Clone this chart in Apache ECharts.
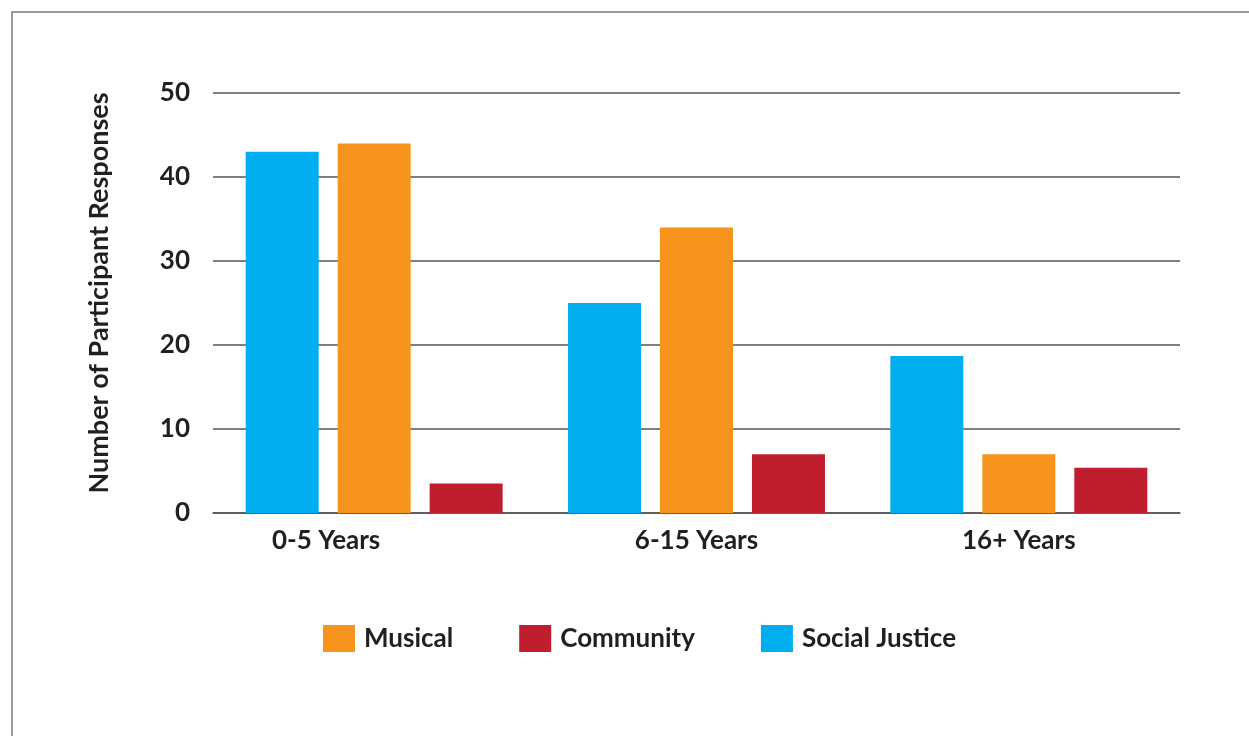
<!DOCTYPE html>
<html>
<head>
<meta charset="utf-8">
<script src="https://cdn.jsdelivr.net/npm/echarts@6/dist/echarts.min.js"></script>
<style>html,body{margin:0;padding:0;background:#fff}#c{width:1249px;height:736px}</style>
</head>
<body>
<div id="c"></div>
<script>
var categories = ['0-5 Years', '6-15 Years', '16+ Years'];
var socialJustice = [43, 25, 18.7];
var musical = [44, 34, 7];
var community = [3.5, 7, 5.4];
var yTicks = [0, 10, 20, 30, 40, 50];

var FONT = 'Lato';
var TXT = '#231f20';
var chart = echarts.init(document.getElementById('c'));
var catData = categories.map(function (c, i) {
  return i === 0 ? { value: c, textStyle: { padding: [0, 96, 0, 0] } } : c;
});
chart.setOption({
  animation: false,
  backgroundColor: '#fff',
  graphic: [{
    type: 'polyline',
    shape: { points: [[12, 760], [12, 12], [1260, 12]] },
    style: { stroke: '#7a7a7a', lineWidth: 1.5, fill: null }
  }],
  legend: {
    data: ['Musical', 'Community', 'Social Justice'],
    left: 318, top: 620,
    itemWidth: 32, itemHeight: 27, itemGap: 66,
    icon: 'rect',
    textStyle: { fontFamily: FONT, fontSize: 26, fontWeight: 'bold', color: TXT, padding: [0, 0, 0, 4] }
  },
  grid: { left: 213, right: 69, top: 93, bottom: 223, containLabel: false },
  xAxis: {
    type: 'category',
    data: catData,
    axisTick: { show: false },
    axisLine: { show: true, lineStyle: { color: '#555', width: 1.5 } },
    axisLabel: { margin: 15, fontFamily: FONT, fontSize: 26, fontWeight: 'bold', color: TXT }
  },
  yAxis: {
    type: 'value',
    min: 0, max: 50, interval: 10,
    name: 'Number of Participant Responses',
    nameLocation: 'middle',
    nameGap: 100,
    nameTextStyle: { fontFamily: FONT, fontSize: 27, fontWeight: 'bold', color: TXT, padding: [0, 0, 0, 20] },
    axisLine: { show: false },
    axisTick: { show: false },
    axisLabel: {
      margin: 23, fontFamily: FONT, fontSize: 26, fontWeight: 'bold', color: TXT,
      formatter: function (v) { return yTicks.indexOf(v) >= 0 ? String(v) : ''; }
    },
    splitLine: { lineStyle: { color: '#555', width: 1.5 } }
  },
  series: [
    { name: 'Social Justice', type: 'bar', data: socialJustice, barWidth: 73, barGap: '26%', itemStyle: { color: '#00aeef' } },
    { name: 'Musical', type: 'bar', data: musical, barWidth: 73, barGap: '26%', itemStyle: { color: '#f7941d' } },
    { name: 'Community', type: 'bar', data: community, barWidth: 73, barGap: '26%', itemStyle: { color: '#be1e2d' } }
  ]
});
</script>
</body>
</html>
